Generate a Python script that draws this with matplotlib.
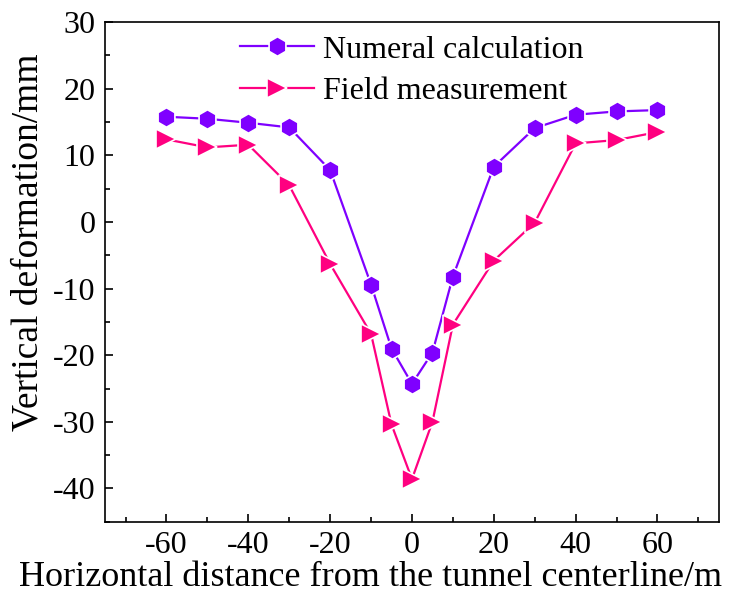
import matplotlib
matplotlib.use("Agg")
import matplotlib.pyplot as plt
from matplotlib.ticker import MultipleLocator

plt.rcParams['font.family'] = ['Liberation Serif', 'DejaVu Serif']

# distance from the tunnel centerline (m)
distance = [-60, -50, -40, -30, -20, -10, -5, 0, 5, 10, 20, 30, 40, 50, 60]
# vertical deformation (mm)
numeral = [15.8, 15.5, 14.9, 14.2, 7.8, -9.4, -19.0, -24.3, -19.6, -8.2,
           8.3, 14.1, 16.1, 16.6, 16.8]
field = [12.4, 11.2, 11.6, 5.5, -6.3, -16.8, -30.4, -38.6, -30.0, -15.4,
         -5.8, -0.1, 11.8, 12.3, 13.5]

xticks = [-60, -40, -20, 0, 20, 40, 60]
xticklabels = ['-60', '-40', '-20', '0', '20', '40', '60']
yticks = [-40, -30, -20, -10, 0, 10, 20, 30]
yticklabels = ['-40', '-30', '-20', '-10', '0', '10', '20', '30']

fig = plt.figure(figsize=(7.35, 5.99), dpi=100)
ax = fig.add_axes([0.143, 0.129, 0.835, 0.834])

ax.plot(distance, numeral, color='#7F00FF', lw=1.6, marker='h', ms=14,
        mec='white', mew=1.2, label='Numeral calculation')
ax.plot(distance, field, color='#FF0080', lw=1.6, marker='>', ms=14,
        mec='white', mew=1.2, label='Field measurement')

ax.set_xlim(-75, 75)
ax.set_ylim(-45, 30)
ax.set_xticks(xticks)
ax.set_xticklabels(xticklabels)
ax.set_yticks(yticks)
ax.set_yticklabels(yticklabels)
ax.xaxis.set_minor_locator(MultipleLocator(10))
ax.yaxis.set_minor_locator(MultipleLocator(5))
ax.tick_params(which='both', direction='in', labelsize=23, width=1.2, pad=7)
ax.tick_params(which='major', length=6)
ax.tick_params(which='minor', length=3.5)
for s in ax.spines.values():
    s.set_linewidth(1.2)

ax.set_xlabel('Horizontal distance from the tunnel centerline/m', fontsize=26)
ax.xaxis.set_label_coords(0.432, -0.078)
ax.set_ylabel('Vertical deformation/mm', fontsize=27, va='center')
ax.yaxis.set_label_coords(-0.125, 0.56)

ax.legend(loc='upper left', frameon=False, fontsize=23, handlelength=2.3,
          borderpad=0, borderaxespad=0, labelspacing=0.38, handletextpad=0.3,
          bbox_to_anchor=(0.22, 0.974))

fig.savefig('out.png', dpi=100)
